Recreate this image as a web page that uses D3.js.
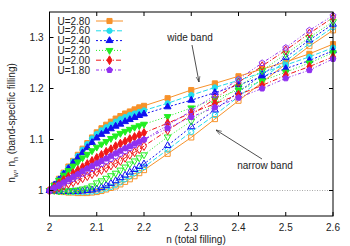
<!DOCTYPE html>
<html>
<head>
<meta charset="utf-8">
<script src="https://d3js.org/d3.v7.min.js"></script>
<style>
  body { margin: 0; background: #fff; }
  text { font-family: "Liberation Sans", Arial, sans-serif; }
</style>
</head>
<body>
<div id="chart"></div>
<script>
// total filling values (dense up to 2.2, then every 0.05)
var nVals = [2.00,2.01,2.02,2.03,2.04,2.05,2.06,2.07,2.08,2.09,2.10,2.11,2.12,2.13,2.14,2.15,2.16,2.17,2.18,2.19,2.20,
             2.25,2.30,2.35,2.40,2.45,2.50,2.55,2.60];

var uLabels = ["U=2.80", "U=2.60", "U=2.40", "U=2.20", "U=2.00", "U=1.80"];

// wide band filling
var wide280 = [1.000,1.011,1.023,1.035,1.047,1.058,1.070,1.082,1.093,1.104,1.114,1.122,1.129,1.135,1.141,1.146,1.151,1.155,1.159,1.163,1.166,
               1.181,1.197,1.210,1.224,1.238,1.252,1.268,1.287];
var wide260 = [1.000,1.011,1.022,1.034,1.045,1.057,1.068,1.080,1.091,1.102,1.111,1.118,1.124,1.129,1.135,1.140,1.144,1.148,1.151,1.154,1.157,
               1.171,1.187,1.202,1.216,1.231,1.246,1.262,1.280];
var wide240 = [1.000,1.011,1.021,1.032,1.043,1.054,1.064,1.074,1.084,1.094,1.103,1.110,1.116,1.121,1.126,1.130,1.135,1.139,1.143,1.147,1.150,
               1.164,1.177,1.192,1.207,1.223,1.239,1.255,1.274];
var wide220 = [1.000,1.010,1.020,1.030,1.039,1.048,1.056,1.064,1.071,1.078,1.085,1.091,1.096,1.102,1.107,1.112,1.116,1.120,1.124,1.127,1.130,
               1.145,1.162,1.180,1.197,1.215,1.232,1.250,1.270];
var wide200 = [1.000,1.007,1.014,1.021,1.027,1.034,1.040,1.046,1.052,1.058,1.064,1.070,1.076,1.081,1.087,1.092,1.096,1.101,1.105,1.109,1.113,
               1.132,1.152,1.170,1.188,1.206,1.226,1.243,1.262];
var wide180 = [1.000,1.005,1.011,1.016,1.022,1.027,1.032,1.038,1.043,1.048,1.053,1.058,1.063,1.068,1.073,1.078,1.083,1.087,1.092,1.096,1.100,
               1.122,1.144,1.163,1.182,1.200,1.220,1.236,1.258];

// narrow band filling
var narrow280 = [1.000,0.999,0.998,0.997,0.996,0.996,0.995,0.995,0.995,0.996,0.997,0.999,1.002,1.005,1.008,1.012,1.017,1.022,1.028,1.034,1.040,
                 1.072,1.104,1.140,1.176,1.212,1.248,1.283,1.314];
var narrow260 = [1.000,0.999,0.998,0.998,0.997,0.997,0.997,0.997,0.997,0.998,0.999,1.001,1.004,1.007,1.011,1.016,1.022,1.028,1.034,1.040,1.046,
                 1.080,1.115,1.148,1.184,1.219,1.254,1.288,1.320];
var narrow240 = [1.000,0.999,0.999,0.998,0.998,0.998,0.998,0.999,1.000,1.001,1.003,1.006,1.010,1.014,1.019,1.025,1.030,1.036,1.041,1.047,1.052,
                 1.088,1.125,1.158,1.193,1.227,1.261,1.295,1.326];
var narrow220 = [1.000,1.000,0.999,0.999,0.999,1.000,1.001,1.003,1.005,1.009,1.015,1.019,1.024,1.029,1.034,1.040,1.046,1.052,1.058,1.064,1.070,
                 1.105,1.136,1.170,1.203,1.235,1.268,1.300,1.331];
var narrow200 = [1.000,1.003,1.006,1.009,1.013,1.016,1.020,1.024,1.028,1.032,1.036,1.040,1.044,1.049,1.053,1.058,1.064,1.070,1.075,1.081,1.087,
                 1.118,1.148,1.180,1.212,1.244,1.275,1.308,1.339];
var narrow180 = [1.000,1.005,1.009,1.014,1.019,1.023,1.028,1.033,1.037,1.042,1.047,1.052,1.057,1.062,1.067,1.072,1.077,1.083,1.089,1.094,1.100,
                 1.128,1.156,1.187,1.218,1.250,1.280,1.314,1.343];

var xTicks = [2, 2.1, 2.2, 2.3, 2.4, 2.5, 2.6];
var yTicks = [1, 1.1, 1.2, 1.3];

var width = 350, height = 246;
var margin = {top: 12, left: 49.5, right: 17, bottom: 30};
var iw = width - margin.left - margin.right, ih = height - margin.top - margin.bottom;

var svg = d3.select("#chart").append("svg")
  .attr("width", width).attr("height", height);
var g = svg.append("g").attr("transform", "translate(" + margin.left + "," + margin.top + ")");

var x = d3.scaleLinear().domain([2, 2.6]).range([0, iw]);
var y = d3.scaleLinear().domain([0.95, 1.35]).range([ih, 0]);

// style per U
var colors = ["#f7922a", "#22dcec", "#1010f0", "#22ee22", "#f01818", "#9030f0"];
var dashes = [null, "5,2", "2,2", "1,2", "5,2,1,2", "3,2,1,2,1,2"];
var shapes = [d3.symbolSquare, d3.symbolCircle, d3.symbolTriangle, "tdown", d3.symbolDiamond, "pent"];
var sizes = [26, 22, 20, 20, 22, 22];

var wideSets = [wide280, wide260, wide240, wide220, wide200, wide180];
var narrowSets = [narrow280, narrow260, narrow240, narrow220, narrow200, narrow180];

function markerPath(i) {
  var s = shapes[i];
  if (s === "pent") {
    var r = 3.1, pts = [];
    for (var k = 0; k < 5; k++) {
      var a = -Math.PI / 2 + k * 2 * Math.PI / 5;
      pts.push([r * Math.cos(a), r * Math.sin(a)]);
    }
    return "M" + pts.join("L") + "Z";
  }
  if (s === "tdown") return d3.symbol(d3.symbolTriangle, sizes[i])();
  return d3.symbol(s, sizes[i])();
}
function markerTransform(i, px, py) {
  return "translate(" + px + "," + py + ")" + (shapes[i] === "tdown" ? " rotate(180)" : "");
}

// frame clip
g.append("clipPath").attr("id", "clip").append("rect")
  .attr("x", -4).attr("y", -4).attr("width", iw + 8).attr("height", ih + 8);

// dotted reference at 1
g.append("line")
  .attr("x1", 0).attr("x2", iw).attr("y1", y(1)).attr("y2", y(1))
  .attr("stroke", "#aaa").attr("stroke-width", 1).attr("stroke-dasharray", "1,1.5");

var line = d3.line()
  .x(function(d, j) { return x(nVals[j]); })
  .y(function(d) { return y(d); });

var plot = g.append("g").attr("clip-path", "url(#clip)");

for (var i = 0; i < 6; i++) {
  [wideSets[i], narrowSets[i]].forEach(function(vals, k) {
    plot.append("path")
      .attr("d", line(vals))
      .attr("fill", "none")
      .attr("stroke", colors[i])
      .attr("stroke-width", 1)
      .attr("stroke-dasharray", dashes[i]);
    var ii = i;
    plot.selectAll(null)
      .data(vals)
      .enter().append("path")
        .attr("d", markerPath(ii))
        .attr("transform", function(d, j) { return markerTransform(ii, x(nVals[j]), y(d)); })
        .attr("fill", k === 0 ? colors[ii] : "none")
        .attr("stroke", colors[ii])
        .attr("stroke-width", 1);
  });
}

// frame
g.append("rect").attr("width", iw).attr("height", ih)
  .attr("fill", "none").attr("stroke", "#000").attr("stroke-width", 1);

// ticks (inside, mirrored)
var tl = 4;
xTicks.forEach(function(t) {
  g.append("line").attr("x1", x(t)).attr("x2", x(t)).attr("y1", ih).attr("y2", ih - tl).attr("stroke", "#000");
  g.append("line").attr("x1", x(t)).attr("x2", x(t)).attr("y1", 0).attr("y2", tl).attr("stroke", "#000");
  g.append("text").attr("x", x(t)).attr("y", ih + 15)
    .attr("text-anchor", "middle").attr("font-size", 10).attr("fill", "#222")
    .text(d3.format("")(t));
});
yTicks.forEach(function(t) {
  g.append("line").attr("x1", 0).attr("x2", tl).attr("y1", y(t)).attr("y2", y(t)).attr("stroke", "#000");
  g.append("line").attr("x1", iw).attr("x2", iw - tl).attr("y1", y(t)).attr("y2", y(t)).attr("stroke", "#000");
  g.append("text").attr("x", -6).attr("y", y(t) + 3.5)
    .attr("text-anchor", "end").attr("font-size", 10).attr("fill", "#222")
    .text(d3.format("")(t));
});

// axis labels
svg.append("text")
  .attr("x", 196).attr("y", 243)
  .attr("text-anchor", "middle").attr("font-size", 10).attr("fill", "#222")
  .text("n (total filling)");

var yl = svg.append("text")
  .attr("transform", "translate(15,123) rotate(-90)")
  .attr("text-anchor", "middle").attr("font-size", 10).attr("fill", "#222");
yl.append("tspan").text("n");
yl.append("tspan").attr("dy", 2.5).attr("font-size", 7).text("w");
yl.append("tspan").attr("dy", -2.5).text(", n");
yl.append("tspan").attr("dy", 2.5).attr("font-size", 7).text("n");
yl.append("tspan").attr("dy", -2.5).text(" (band-specific filling)");

// legend
uLabels.forEach(function(lab, i) {
  var ly = 21 + i * 9.8;
  svg.append("text").attr("x", 90).attr("y", ly + 3.5)
    .attr("text-anchor", "end").attr("font-size", 10).attr("fill", "#222").text(lab);
  svg.append("line").attr("x1", 96).attr("x2", 123).attr("y1", ly).attr("y2", ly)
    .attr("stroke", colors[i]).attr("stroke-width", 1).attr("stroke-dasharray", dashes[i]);
  svg.append("path").attr("d", markerPath(i))
    .attr("transform", markerTransform(i, 109.5, ly))
    .attr("fill", colors[i]).attr("stroke", colors[i]);
});

// annotations
svg.append("defs").append("marker")
  .attr("id", "arr").attr("viewBox", "0 0 10 10").attr("refX", 10).attr("refY", 5)
  .attr("markerWidth", 7).attr("markerHeight", 7).attr("orient", "auto-start-reverse")
  .append("path").attr("d", "M0,1.5L10,5L0,8.5").attr("fill", "none").attr("stroke", "#222");

svg.append("text").attr("x", 190).attr("y", 40.5)
  .attr("text-anchor", "middle").attr("font-size", 10).attr("fill", "#222").text("wide band");
svg.append("line").attr("x1", 192).attr("y1", 45).attr("x2", 199).attr("y2", 82)
  .attr("stroke", "#222").attr("stroke-width", 0.8).attr("marker-end", "url(#arr)");

svg.append("text").attr("x", 265).attr("y", 168.5)
  .attr("text-anchor", "middle").attr("font-size", 10).attr("fill", "#222").text("narrow band");
svg.append("line").attr("x1", 262).attr("y1", 159).attr("x2", 216).attr("y2", 130)
  .attr("stroke", "#222").attr("stroke-width", 0.8).attr("marker-end", "url(#arr)");
</script>
</body>
</html>
